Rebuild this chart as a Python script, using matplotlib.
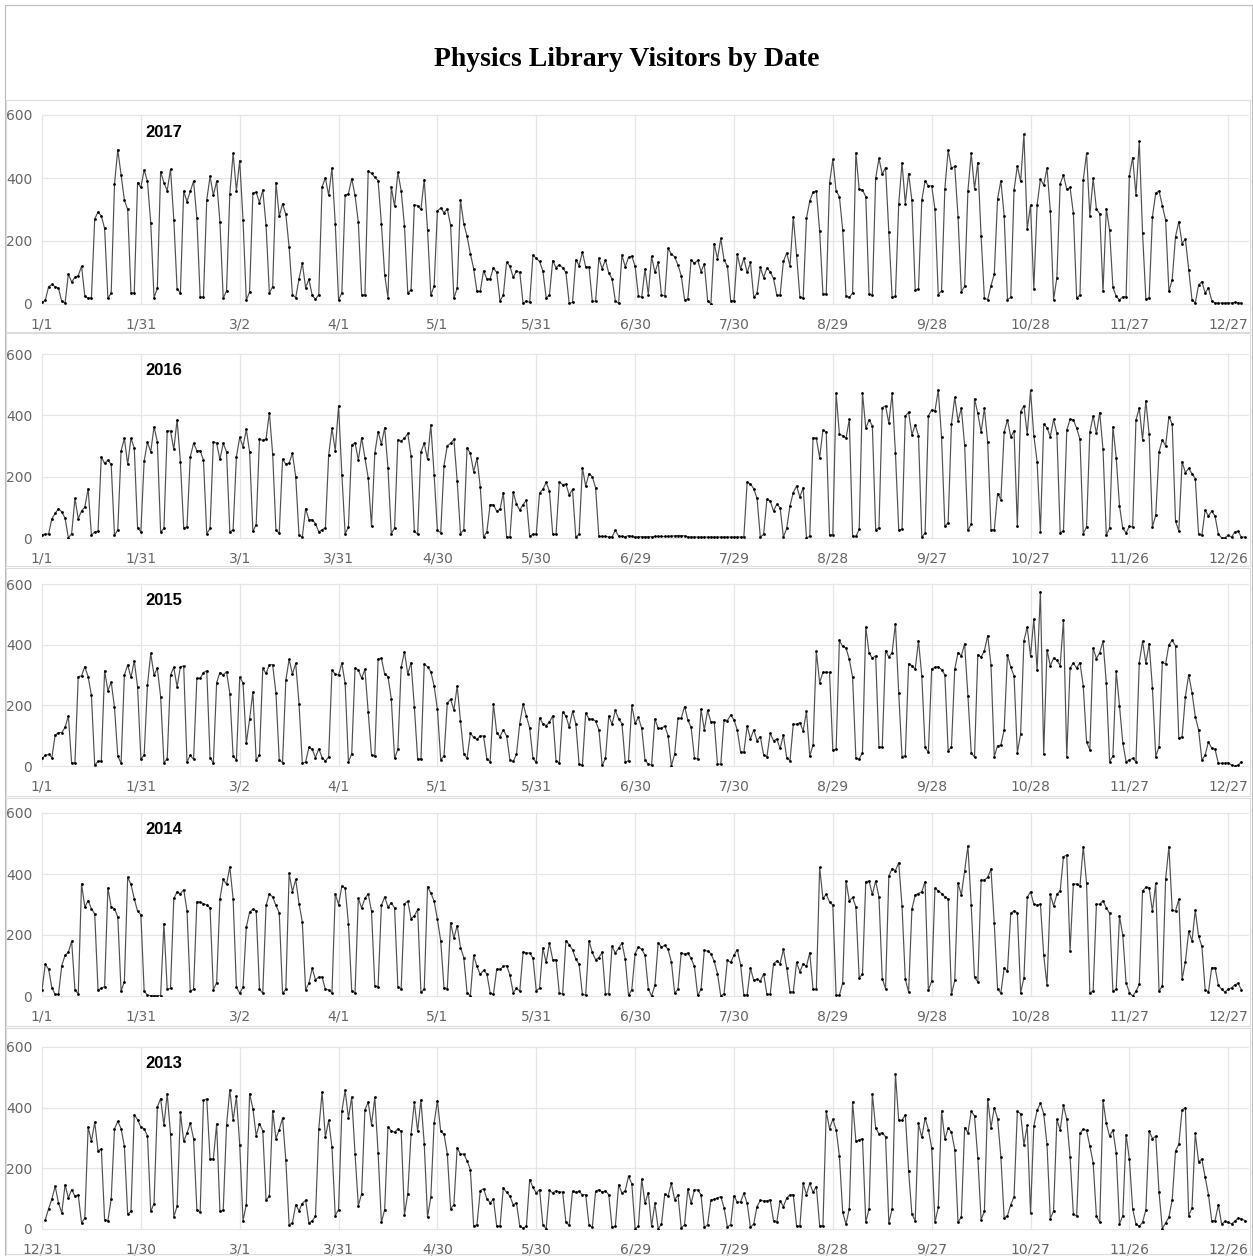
import matplotlib
matplotlib.use('Agg')
from matplotlib import pyplot as plt
from matplotlib.patches import Rectangle

# daily visitor counts (one value per day)
visitors_2017 = [
    5, 12, 55, 62, 55, 50, 8, 3,
    95, 70, 85, 90, 120, 25, 18, 20,
    270, 292, 280, 240, 18, 35,
    380, 490, 410, 330, 300, 35, 35,
    385, 370, 425, 390, 258, 20, 50,
    420, 385, 360, 428, 268, 48, 35,
    358, 325, 358, 390, 272, 22, 22,
    330, 405, 345, 390, 260, 18, 42,
    350, 478, 360, 455, 268, 12, 38,
    352, 355, 322, 362, 250, 35, 55,
    385, 278, 318, 285, 180, 30, 20,
    80, 130, 52, 78, 28, 15, 30,
    372, 400, 345, 432, 255, 12, 35,
    345, 350, 398, 345, 260, 30, 28,
    422, 415, 402, 392, 255, 92, 20,
    372, 310, 418, 360, 248, 35, 45,
    315, 312, 300, 395, 235, 28, 57,
    295, 305, 290, 302, 250, 18, 50,
    330, 255, 215, 160, 112, 40, 40,
    105, 80, 80, 115, 100, 10, 28,
    133, 120, 85, 105, 100, 2, 10,
    5, 155, 145, 135, 105, 20, 28,
    138, 115, 125, 115, 100, 2, 5,
    140, 122, 165, 118, 118, 10, 8,
    145, 112, 140, 98, 80, 10, 2,
    155, 118, 148, 152, 120, 26, 21,
    111, 30, 151, 100, 132, 28, 26,
    177, 158, 150, 124, 90, 14, 15,
    140, 129, 139, 103, 127, 11, 0,
    192, 143, 208, 139, 121, 11, 11,
    158, 111, 145, 100, 132, 21, 34,
    116, 84, 114, 102, 81, 28, 28,
    135, 162, 121, 277, 156, 23, 18,
    272, 327, 355, 359, 232, 32, 32,
    383, 459, 359, 341, 235, 26, 21,
    35, 480, 364, 362, 341, 32, 28,
    399, 462, 412, 433, 229, 21, 24,
    317, 449, 319, 414, 329, 45, 48,
    329, 391, 375, 375, 301, 30, 42,
    366, 488, 431, 437, 277, 39, 56,
    359, 478, 366, 449, 216, 18, 14,
    58, 95, 334, 391, 280, 14, 21,
    362, 438, 389, 539, 238, 314, 48,
    315, 396, 378, 431, 296, 14, 84,
    382, 409, 364, 370, 288, 19, 28,
    394, 478, 280, 399, 301, 287, 40,
    303, 234, 53, 24, 13, 23, 23,
    407, 465, 346, 517, 225, 16, 19,
    277, 352, 359, 312, 266, 40, 77,
    214, 261, 192, 206, 109, 14, 3,
    60, 71, 35, 51, 11, 3,
    3, 3, 3, 4, 3, 5, 4, 2,
]

visitors_2016 = [
    11, 12, 13,
    63, 80, 96, 85, 65, 0, 14,
    129, 63, 88, 101, 161, 9, 20,
    22, 265, 243, 254, 240, 9, 27,
    284, 325, 240, 325, 294, 33, 20,
    251, 312, 281, 363, 314, 20, 31,
    349, 349, 289, 385, 249, 33, 36,
    265, 309, 285, 285, 254, 14, 31,
    314, 309, 256, 309, 281, 20, 27,
    265, 328, 298, 354, 281, 22, 44,
    323, 318, 323, 409, 274, 25, 16,
    257, 241, 245, 276, 200, 9, 3,
    96, 60, 60, 47, 20, 27, 33,
    270, 358, 284, 431, 207, 14, 36,
    303, 311, 254, 327, 262, 196, 38,
    276, 347, 306, 360, 227, 14, 33,
    320, 316, 325, 341, 268, 22, 12,
    281, 309, 257, 369, 207, 25, 17,
    236, 301, 309, 322, 186, 14, 27,
    294, 276, 216, 260, 167, 3, 20,
    109, 109, 87, 94, 147, 3, 3,
    150, 110, 91, 109, 123, 5, 12,
    12, 147, 159, 181, 153, 12, 12,
    183, 174, 176, 140, 159, 3, 12,
    229, 169, 210, 200, 164, 5,
    5, 5, 4, 4, 25, 6, 5, 4, 8, 5, 3,
    4, 4, 4, 4, 4, 5, 5, 5, 5, 5, 6, 7, 8, 8, 7, 4,
    3, 3, 3, 3, 3, 3, 3, 3, 3, 3, 3, 3, 3, 3, 3, 3, 3,
    183, 176, 161, 129, 3, 12,
    126, 121, 88, 110, 99, 3, 31,
    105, 148, 170, 134, 164, 1, 5,
    327, 325, 262, 352, 345, 9, 11,
    472, 338, 334, 325, 387, 5, 5,
    28, 474, 358, 385, 366, 27, 33,
    425, 431, 374, 472, 278, 27, 28,
    398, 410, 336, 369, 334, 3, 16,
    398, 418, 414, 483, 328, 38, 50,
    371, 459, 382, 423, 303, 25, 45,
    454, 407, 345, 423, 312, 27, 27,
    145, 125, 345, 385, 330, 349, 38,
    412, 431, 338, 481, 334, 249, 20,
    371, 360, 330, 387, 341, 17, 23,
    352, 387, 385, 358, 322, 14, 36,
    345, 398, 341, 409, 289, 9, 33,
    363, 262, 105, 31, 17, 38, 36,
    385, 423, 320, 448, 338, 36, 74,
    281, 320, 301, 396, 371, 55, 23,
    249, 213, 227, 210, 194, 12, 9,
    91, 72, 88, 71, 12, 1, 1,
    9, 3, 20, 22, 3, 3,
]

visitors_2015 = [
    25, 35, 38, 28,
    102, 110, 110, 127, 165, 9, 11,
    295, 297, 328, 294, 233, 2, 16,
    16, 314, 248, 277, 193, 33, 9,
    300, 333, 292, 347, 261, 24, 35,
    266, 371, 300, 322, 229, 11, 24,
    300, 325, 261, 327, 330, 14, 35,
    22, 289, 289, 308, 314, 28, 9,
    275, 308, 300, 311, 239, 33, 20,
    292, 275, 75, 154, 244, 20, 36,
    322, 305, 334, 334, 240, 20, 11,
    283, 352, 303, 338, 206, 9, 13,
    61, 55, 28, 57, 28, 16, 30,
    316, 303, 300, 339, 272, 13, 41,
    322, 317, 289, 319, 178, 36, 33,
    352, 355, 303, 295, 222, 25, 55,
    325, 377, 303, 341, 195, 24, 22,
    336, 327, 311, 264, 187, 20, 33,
    207, 220, 184, 264, 149, 41, 25,
    108, 94, 88, 99, 99, 24, 14,
    204, 110, 97, 119, 99, 20, 15,
    39, 140, 205, 165, 125, 25, 12,
    158, 140, 133, 145, 165, 18, 10,
    178, 165, 128, 180, 140, 5, 3,
    175, 155, 155, 148, 120, 2, 25,
    165, 138, 183, 155, 140, 12, 18,
    200, 141, 160, 124, 20, 6, 3,
    155, 124, 124, 132, 100, 0, 39,
    157, 157, 196, 152, 127, 28, 22,
    187, 119, 183, 146, 146, 6, 6,
    152, 150, 168, 152, 119, 47, 45,
    132, 89, 119, 84, 97, 36, 31,
    108, 83, 89, 58, 102, 28, 17,
    138, 138, 143, 116, 180, 33, 69,
    378, 275, 309, 309, 309, 53, 55,
    414, 394, 389, 352, 293, 25, 23,
    44, 458, 372, 356, 363, 64, 61,
    380, 359, 374, 469, 240, 31, 34,
    337, 331, 319, 413, 297, 61, 45,
    320, 325, 328, 317, 301, 51, 62,
    319, 374, 363, 403, 231, 44, 29,
    367, 359, 380, 430, 334, 31, 67,
    69, 119, 367, 326, 297, 44, 106,
    413, 458, 363, 485, 315, 574, 39,
    383, 330, 356, 348, 331, 482, 31,
    323, 339, 323, 341, 264, 80, 53,
    389, 354, 374, 411, 273, 14, 33,
    312, 198, 77, 14, 20, 25, 14,
    341, 411, 339, 403, 257, 31, 64,
    343, 336, 400, 414, 396, 91, 97,
    229, 301, 242, 163, 119, 20, 36,
    80, 58, 55, 9, 9, 9, 11,
    3, 0, 3, 14,
]

visitors_2014 = [
    20, 104, 88, 27, 5,
    5, 100, 133, 144, 179, 20, 7,
    368, 292, 313, 286, 269, 20, 25,
    31, 355, 292, 286, 259, 16, 47,
    389, 366, 319, 278, 267, 16, 3,
    1, 1, 1, 1, 237, 22, 25,
    320, 341, 335, 349, 280, 16, 22,
    309, 308, 303, 298, 289, 20, 44,
    319, 382, 366, 423, 319, 29, 9,
    29, 225, 275, 284, 280, 22, 9,
    297, 335, 325, 297, 273, 9, 22,
    402, 342, 382, 303, 243, 20, 42,
    91, 53, 62, 62, 22, 20, 11,
    335, 300, 360, 354, 237, 16, 11,
    320, 289, 320, 335, 278, 33, 31,
    297, 325, 292, 305, 289, 31, 23,
    302, 311, 254, 262, 284, 12, 22,
    358, 338, 311, 251, 181, 27, 24,
    240, 190, 231, 159, 126, 11, 1,
    133, 97, 71, 84, 73, 11, 5,
    88, 88, 97, 100, 69, 11, 25,
    16, 144, 141, 141, 124, 18, 25,
    157, 110, 174, 119, 119, 9, 7,
    181, 168, 152, 121, 104, 5, 3,
    181, 143, 119, 126, 143, 7, 7,
    163, 141, 157, 174, 121, 2, 21,
    139, 161, 153, 134, 24, 0, 35,
    174, 161, 166, 153, 112, 10, 22,
    142, 137, 141, 123, 97, 2, 22,
    150, 147, 139, 114, 73, 0, 8,
    117, 110, 134, 152, 103, 2, 4,
    92, 51, 55, 49, 73, 5, 5,
    106, 115, 106, 153, 92, 13, 13,
    110, 79, 106, 97, 142, 22, 22,
    422, 320, 333, 309, 298, 2, 2,
    44, 378, 312, 323, 292, 60, 71,
    375, 377, 333, 377, 325, 57, 24,
    393, 418, 411, 437, 295, 55, 13,
    285, 331, 336, 342, 375, 19, 49,
    353, 345, 336, 325, 318, 5, 51,
    371, 331, 410, 492, 298, 62, 46,
    380, 380, 389, 416, 238, 22, 10,
    92, 81, 271, 279, 273, 10, 60,
    323, 342, 301, 298, 301, 134, 35,
    333, 295, 333, 345, 457, 462, 148,
    367, 367, 360, 490, 371, 10, 16,
    301, 301, 312, 289, 271, 16, 22,
    262, 199, 44, 11, 0, 15, 38,
    345, 356, 355, 278, 369, 16, 33,
    383, 490, 281, 279, 317, 55, 112,
    212, 181, 281, 196, 163, 21, 13,
    93, 93, 35, 22, 13, 22, 27,
    37, 41, 21,
]

# 2013 starts on 1/1, one day after the 12/31 axis origin
visitors_2013 = [
    30, 67, 99, 141, 86, 53,
    146, 102, 130, 108, 113, 20, 36,
    336, 289, 352, 258, 264, 31, 27,
    99, 330, 355, 331, 273, 49, 58,
    377, 360, 336, 330, 308, 58, 84,
    402, 430, 342, 446, 313, 40, 75,
    385, 289, 316, 349, 298, 64, 56,
    424, 429, 231, 231, 346, 58, 62,
    342, 459, 358, 437, 278, 27, 80,
    446, 397, 308, 347, 324, 95, 108,
    390, 298, 327, 366, 226, 14, 20,
    80, 60, 84, 95, 20, 27, 42,
    330, 451, 303, 358, 269, 44, 64,
    388, 457, 366, 435, 248, 77, 116,
    393, 418, 344, 434, 251, 22, 64,
    336, 324, 319, 330, 322, 47, 116,
    313, 418, 322, 426, 281, 40, 105,
    349, 423, 322, 313, 248, 67, 80,
    267, 247, 247, 225, 196, 9, 14,
    126, 133, 100, 86, 99, 9, 9,
    135, 121, 108, 80, 86, 9, 3,
    9, 163, 137, 119, 130, 14, 1,
    127, 119, 126, 122, 122, 22, 12,
    124, 121, 124, 113, 113, 14, 5,
    124, 130, 122, 126, 113, 5, 9,
    146, 119, 126, 174, 149, 1, 9,
    165, 85, 120, 9, 85, 1, 16,
    115, 109, 151, 96, 113, 3, 14,
    131, 85, 129, 129, 113, 5, 14,
    96, 98, 102, 107, 69, 7, 14,
    109, 89, 89, 118, 85, 5, 17,
    74, 94, 93, 93, 96, 28, 23,
    93, 74, 102, 113, 113, 11, 9,
    151, 113, 151, 121, 140, 11, 11,
    388, 331, 362, 328, 240, 55, 16,
    67, 419, 290, 293, 298, 23, 66,
    446, 333, 314, 317, 304, 20, 66,
    511, 358, 358, 377, 191, 49, 27,
    348, 302, 366, 328, 268, 22, 71,
    389, 296, 333, 320, 262, 23, 39,
    334, 317, 388, 373, 235, 31, 58,
    430, 334, 400, 364, 238, 36, 44,
    80, 107, 388, 380, 277, 342, 52,
    340, 391, 415, 380, 279, 34, 60,
    361, 326, 408, 361, 238, 50, 42,
    315, 329, 325, 274, 219, 42, 22,
    424, 348, 306, 326, 251, 17, 44,
    311, 230, 66, 16, 9, 22, 63,
    323, 298, 306, 121, 1, 20, 39,
    96, 257, 279, 393, 400, 44, 69,
    315, 222, 230, 170, 113, 27, 28,
    80, 16, 25, 22, 17, 25, 36,
    34, 28,
]

ticks_a = ['1/1', '1/31', '3/2', '4/1', '5/1', '5/31', '6/30', '7/30',
           '8/29', '9/28', '10/28', '11/27', '12/27']
ticks_2016 = ['1/1', '1/31', '3/1', '3/31', '4/30', '5/30', '6/29', '7/29',
              '8/28', '9/27', '10/27', '11/26', '12/26']
ticks_2013 = ['12/31', '1/30', '3/1', '3/31', '4/30', '5/30', '6/29', '7/29',
              '8/28', '9/27', '10/27', '11/26', '12/26']

years = ['2017', '2016', '2015', '2014', '2013']
series = [visitors_2017, visitors_2016, visitors_2015, visitors_2014, visitors_2013]
start_day = [0, 0, 0, 0, 1]
tick_labels = [ticks_a, ticks_2016, ticks_a, ticks_a, ticks_2013]

W, H = 1253, 1256
fig = plt.figure(figsize=(W / 100, H / 100), dpi=100)

# plot areas in pixels: (600 line, 0 line), and the chart frames around them
areas = [(115, 304), (354, 538), (584, 766), (813, 996), (1047, 1229)]
frames = [(100, 332), (333, 566), (568, 796), (798, 1026), (1028, 1254)]
x0, x1 = 42, 1248

for i in range(5):
    top, bot = areas[i]
    ax = fig.add_axes([x0 / W, 1 - bot / H, (x1 - x0) / W, (bot - top) / H])
    xs = [start_day[i] + k for k in range(len(series[i]))]
    ax.plot(xs, series[i], color='#505050', lw=0.85, marker='o', ms=2.0,
            mew=0, mfc='black', zorder=3)
    ax.set_xlim(0, 366)
    ax.set_ylim(0, 600)
    ax.set_xticks(range(0, 361, 30))
    ax.set_xticklabels(tick_labels[i])
    ax.set_yticks([0, 200, 400, 600])
    ax.grid(True, color='#e6e6e6', lw=0.9, zorder=0)
    for sp in ax.spines.values():
        sp.set_visible(False)
    ax.tick_params(length=0, colors='#666666', labelsize=10)
    ax.tick_params(axis='x', pad=10)
    ax.tick_params(axis='y', pad=7)
    for g in ax.get_xgridlines() + ax.get_ygridlines():
        g.set_clip_on(False)
    ax.text(37, 546, years[i], ha='center', va='center', fontsize=12,
            fontweight='bold', family='Liberation Sans')

    ft, fb = frames[i]
    fig.add_artist(Rectangle((6 / W, 1 - fb / H), (1250 - 6) / W, (fb - ft) / H,
                             transform=fig.transFigure, fill=False,
                             ec='#dcdcdc', lw=0.8))

fig.add_artist(Rectangle((5 / W, 0), (1252 - 5) / W, 1 - 5 / H,
                         transform=fig.transFigure, fill=False,
                         ec='#bdbdbd', lw=0.8))

fig.text(0.5, 1 - 60 / H, 'Physics Library Visitors by Date', ha='center',
         va='center', fontsize=20, fontweight='bold', family='Liberation Serif')

fig.savefig('out.png', dpi=100)
